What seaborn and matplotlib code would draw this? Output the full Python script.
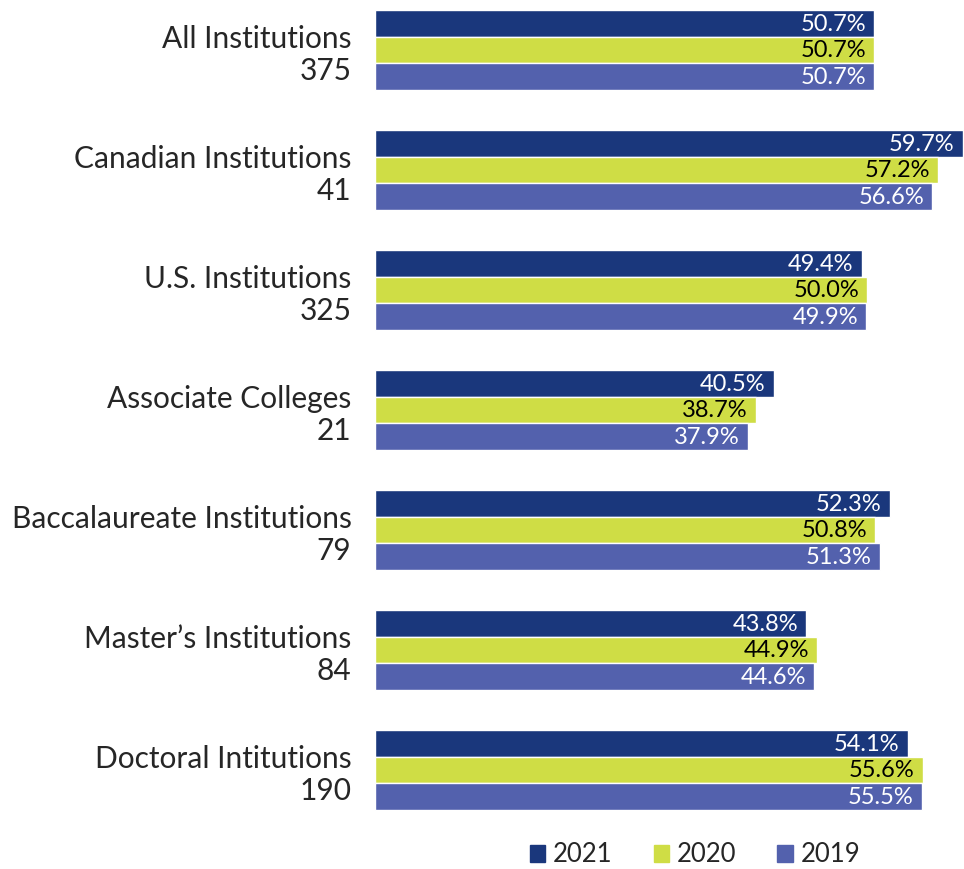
import pandas as pd
import matplotlib
matplotlib.use('Agg')
import matplotlib.pyplot as plt
import seaborn as sns

# categories and counts
groups = ['All Institutions', 'Canadian Institutions', 'U.S. Institutions', 'Associate Colleges',
          'Baccalaureate Institutions', 'Master\u2019s Institutions', 'Doctoral Intitutions']
counts = ['375', '41', '325', '21', '79', '84', '190']
years = ['2021', '2020', '2019']
v2021 = [50.7, 59.7, 49.4, 40.5, 52.3, 43.8, 54.1]
v2020 = [50.7, 57.2, 50.0, 38.7, 50.8, 44.9, 55.6]
v2019 = [50.7, 56.6, 49.9, 37.9, 51.3, 44.6, 55.5]
colors = ['#1a377c', '#cfdd45', '#5361ad']
text_colors = ['white', 'black', 'white']

rows = []
for yr, vals in zip(years, [v2021, v2020, v2019]):
    for g, v in zip(groups, vals):
        rows.append({'group': g, 'year': yr, 'value': v})
df = pd.DataFrame(rows)

sns.set_style('white')
plt.rcParams['font.family'] = ['Lato', 'DejaVu Sans']

fig = plt.figure(figsize=(9.64, 8.69), dpi=100)
ax = fig.add_axes([375 / 964, 1 - 830 / 869, 1 - 375 / 964, 830 / 869])

sns.barplot(data=df, y='group', x='value', hue='year', orient='h', palette=colors,
            order=groups, hue_order=years, width=2 / 3, saturation=1, ax=ax, legend=False)

for cont, tc in zip(ax.containers, text_colors):
    for patch, v in zip(cont.patches, cont.datavalues):
        y = patch.get_y() + patch.get_height() / 2
        ax.annotate(f'{v:.1f}%', xy=(patch.get_width(), y), xytext=(-6, -0.5),
                    textcoords='offset points', ha='right', va='center',
                    color=tc, fontsize=17)

ax.set_xlim(0, 59.8)
ax.set_ylim(6.5, -0.4167)
ax.set_xlabel('')
ax.set_ylabel('')
ax.set_xticks([])
ax.set_yticks(range(len(groups)))
ax.set_yticklabels([f'{g}\n{c}' for g, c in zip(groups, counts)], fontsize=21.5,
                   linespacing=1.2, ha='right', multialignment='right')
ax.tick_params(axis='y', length=0, pad=17)
sns.despine(ax=ax, left=True, bottom=True)

handles = [plt.Rectangle((0, 0), 1, 1, color=c) for c in colors]
fig.legend(handles, years, loc='center', bbox_to_anchor=(695 / 964, 1 - 855 / 869),
           ncol=3, frameon=False, fontsize=18.5, handlelength=0.6, handleheight=0.6,
           handletextpad=0.3, columnspacing=1.6, borderpad=0.1)

fig.savefig('out.png', dpi=100)
